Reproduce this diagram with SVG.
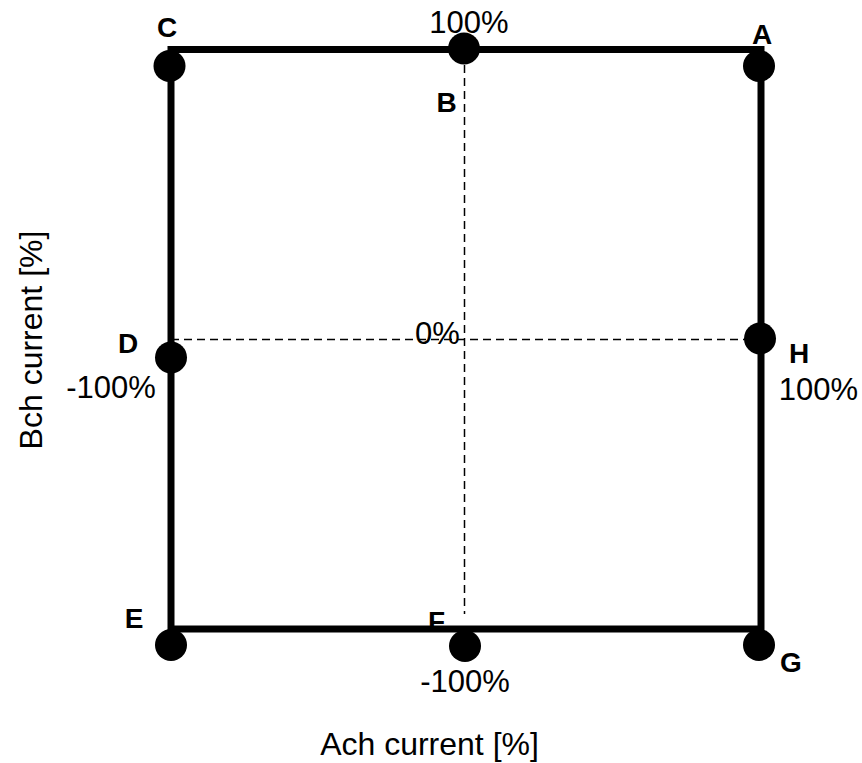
<svg xmlns="http://www.w3.org/2000/svg" width="862" height="763" viewBox="0 0 862 763">
<style>
.frame{fill:none;stroke:#000;stroke-width:7;stroke-linejoin:miter}
.dash{fill:none;stroke:#000;stroke-width:1.5;stroke-dasharray:8,5}
.dot{fill:#000}
.lbl{font-family:"Liberation Sans",Arial,sans-serif;font-weight:bold;font-size:28px;fill:#000}
.pct{font-family:"Liberation Sans",Arial,sans-serif;font-size:31px;fill:#000}
.axis{font-family:"Liberation Sans",Arial,sans-serif;font-size:32px;fill:#000}
</style>
<rect width="862" height="763" fill="#fff"/>
<g id="connectors">
<rect class="frame" x="171" y="49.5" width="590" height="579.5"/>
<line class="dash" x1="464.5" y1="52" x2="464.5" y2="614"/>
<line class="dash" x1="171" y1="339.5" x2="761" y2="339.5"/>
</g>
<g id="node-C"><circle class="dot" cx="169.5" cy="66" r="16"/><text class="lbl" x="167" y="37" text-anchor="middle">C</text></g>
<g id="node-B"><circle class="dot" cx="464" cy="48.5" r="16"/><text class="lbl" x="446.5" y="112" text-anchor="middle">B</text><text class="pct" x="469" y="33" text-anchor="middle">100%</text></g>
<g id="node-A"><circle class="dot" cx="759" cy="66" r="16"/><text class="lbl" x="762" y="44" text-anchor="middle">A</text></g>
<g id="node-D"><circle class="dot" cx="171" cy="357.5" r="16"/><text class="lbl" x="128" y="353" text-anchor="middle">D</text><text class="pct" x="111" y="398" text-anchor="middle">-100%</text></g>
<g id="node-O"><text class="pct" x="437.5" y="344" text-anchor="middle">0%</text></g>
<g id="node-H"><circle class="dot" cx="760" cy="338.5" r="16"/><text class="lbl" x="799" y="363" text-anchor="middle">H</text><text class="pct" x="818.5" y="400" text-anchor="middle">100%</text></g>
<g id="node-E"><circle class="dot" cx="171" cy="645" r="16"/><text class="lbl" x="134" y="628" text-anchor="middle">E</text></g>
<g id="node-F"><circle class="dot" cx="465" cy="646" r="16"/><text class="lbl" x="436.5" y="631" text-anchor="middle">F</text><text class="pct" x="465" y="692" text-anchor="middle">-100%</text></g>
<g id="node-G"><circle class="dot" cx="759" cy="645" r="16"/><text class="lbl" x="791" y="672" text-anchor="middle">G</text></g>
<g id="axes">
<text class="axis" x="429.5" y="755" text-anchor="middle">Ach current [%]</text>
<text class="axis" transform="translate(42,340) rotate(-90)" x="0" y="0" text-anchor="middle">Bch current [%]</text>
</g>
</svg>
